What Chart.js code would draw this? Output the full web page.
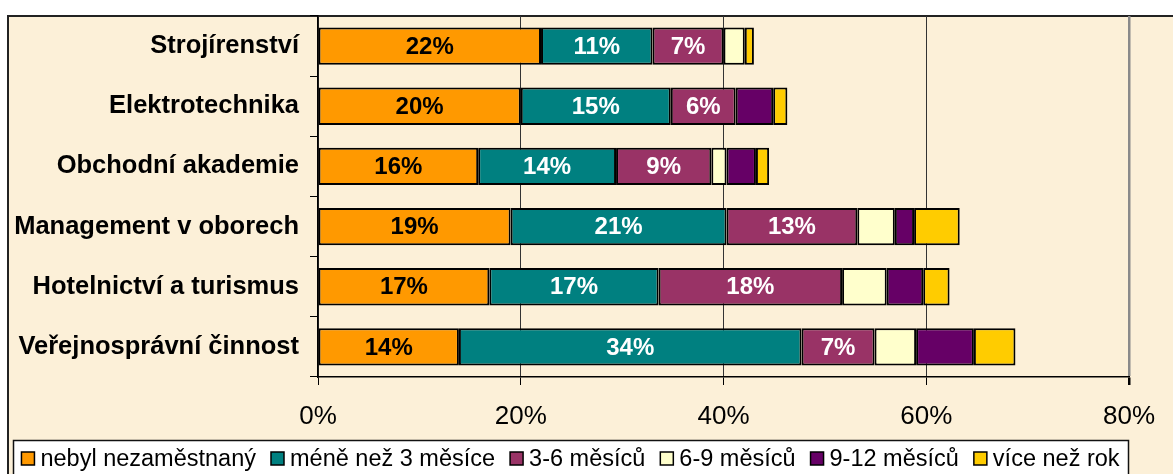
<!DOCTYPE html>
<html><head><meta charset="utf-8">
<script src="https://cdn.jsdelivr.net/npm/chart.js@4/dist/chart.umd.min.js"></script>
<style>html,body{margin:0;padding:0;background:#fff;overflow:hidden}#wrap{width:1173px;height:474px;position:relative}</style>
</head><body><div id="wrap"><canvas id="c" width="1173" height="474"></canvas></div>
<script>
const categories = ["Strojírenství","Elektrotechnika","Obchodní akademie","Management v oborech","Hotelnictví a turismus","Veřejnosprávní činnost"];
const seriesNames = ["nebyl nezaměstnaný","méně než 3 měsíce","3-6 měsíců","6-9 měsíců","9-12 měsíců","více než rok"];
const nebyl = [22.0, 20.0, 15.8, 19.0, 16.9, 13.9];
const mene3 = [11.0, 14.8, 13.6, 21.3, 16.7, 33.8];
const m3_6 = [7.0, 6.4, 9.4, 12.9, 18.1, 7.2];
const m6_9 = [2.1, 0, 1.5, 3.7, 4.4, 4.1];
const m9_12 = [0, 3.7, 2.9, 1.9, 3.6, 5.7];
const viceNezRok = [0.9, 1.4, 1.3, 4.5, 2.6, 4.1];
const xTicks = [0, 20, 40, 60, 80];
const seriesColors = ["#FF9900","#008080","#993366","#FFFFCC","#660066","#FFCC00"];
const labelColors = ["#000","#fff","#fff"];

const FONT = '"Liberation Sans", Arial, sans-serif';
const allSeries = [nebyl, mene3, m3_6, m6_9, m9_12, viceNezRok];

const bgPlugin = {
  id: 'bg',
  beforeDraw(chart) {
    const ctx = chart.ctx;
    ctx.save();
    ctx.fillStyle = '#fff';
    ctx.fillRect(0, 0, chart.width, chart.height);
    ctx.fillStyle = '#FCF0D8';
    ctx.fillRect(8, 16, chart.width - 8, chart.height - 16);
    ctx.strokeStyle = '#222';
    ctx.lineWidth = 2;
    ctx.beginPath();
    ctx.moveTo(8, chart.height);
    ctx.lineTo(8, 16);
    ctx.lineTo(chart.width, 16);
    ctx.stroke();
    ctx.restore();
  }
};

const labelPlugin = {
  id: 'dlabels',
  afterDatasetsDraw(chart) {
    const ctx = chart.ctx;
    ctx.save();
    ctx.font = 'bold 24px ' + FONT;
    ctx.textAlign = 'center';
    ctx.textBaseline = 'middle';
    for (let d = 0; d < 3; d++) {
      const meta = chart.getDatasetMeta(d);
      ctx.fillStyle = labelColors[d];
      meta.data.forEach((el, i) => {
        const v = chart.data.datasets[d].data[i];
        ctx.fillText(Math.round(v) + '%', (el.x + el.base) / 2, el.y + 1);
      });
    }
    ctx.restore();
  }
};

const legendPlugin = {
  id: 'mylegend',
  afterDraw(chart) {
    const ctx = chart.ctx;
    ctx.save();
    const bx = 13, by = 440, bw = 1115, bh = 60;
    ctx.fillStyle = '#fff';
    ctx.fillRect(bx, by, bw, bh);
    ctx.strokeStyle = '#111';
    ctx.lineWidth = 1.5;
    ctx.strokeRect(bx + 0.5, by + 0.5, bw, bh);
    ctx.font = '23.5px ' + FONT;
    ctx.textBaseline = 'middle';
    const box = 13, gapText = 6, gapItem = 15;
    const widths = chart.data.datasets.map(ds => ctx.measureText(ds.label).width);
    let total = 0;
    widths.forEach((w, i) => { total += box + gapText + w + (i < widths.length - 1 ? gapItem : 0); });
    let x = bx + (bw - total) / 2;
    const cy = 459;
    chart.data.datasets.forEach((ds, i) => {
      ctx.fillStyle = ds.backgroundColor;
      ctx.fillRect(x, cy - 7, box, box);
      ctx.strokeStyle = '#000';
      ctx.lineWidth = 1.5;
      ctx.strokeRect(x, cy - 7, box, box);
      ctx.fillStyle = '#000';
      ctx.fillText(ds.label, x + box + gapText, cy + 1);
      x += box + gapText + widths[i] + gapItem;
    });
    ctx.restore();
  }
};

new Chart(document.getElementById('c'), {
  type: 'bar',
  data: {
    labels: categories,
    datasets: allSeries.map((arr, i) => ({
      label: seriesNames[i],
      data: arr,
      backgroundColor: seriesColors[i],
      borderColor: '#000',
      borderWidth: 2,
      borderSkipped: false,
      categoryPercentage: 1,
      barPercentage: 0.62
    }))
  },
  options: {
    indexAxis: 'y',
    responsive: false,
    animation: false,
    devicePixelRatio: 1,
    layout: { padding: { top: 16, left: 0, right: 44, bottom: 0 } },
    plugins: { legend: { display: false }, tooltip: { enabled: false } },
    scales: {
      x: {
        stacked: true,
        min: 0, max: 80,
        afterBuildTicks: s => { s.ticks = xTicks.map(v => ({ value: v })); },
        afterFit: s => { s.height = 97; s.paddingLeft = 0; s.paddingRight = 0; },
        ticks: { callback: v => v + '%', color: '#000', font: { family: FONT, size: 26 }, padding: 16, maxRotation: 0 },
        grid: {
          color: c => (c.tick && c.tick.value === 80) ? '#8a8a8a' : '#333',
          lineWidth: c => (c.tick && c.tick.value === 80) ? 2.5 : 1,
          tickColor: '#000',
          tickLength: 8,
          drawTicks: true
        },
        border: { display: true, color: '#000', width: 1.5 }
      },
      y: {
        stacked: true,
        afterFit: s => { s.width = 318; s.paddingTop = 0; s.paddingBottom = 0; },
        ticks: { color: '#000', font: { family: FONT, size: 25.5, weight: 'bold' }, padding: 11 },
        grid: { drawOnChartArea: false, color: '#000', tickLength: 8, offset: true },
        border: { display: true, color: '#000', width: 1.5 }
      }
    }
  },
  plugins: [bgPlugin, labelPlugin, legendPlugin]
});
</script></body></html>
